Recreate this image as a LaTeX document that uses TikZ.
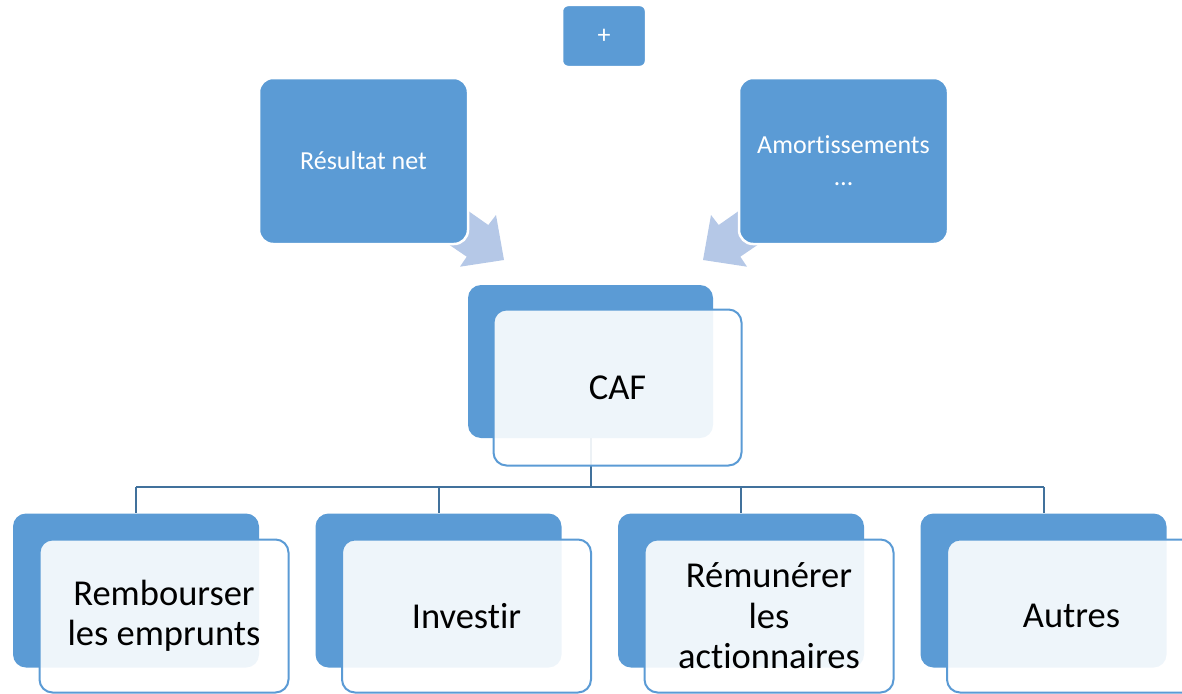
\documentclass[tikz,border=0pt]{standalone}
\usepackage{fontspec}
\setmainfont[Ligatures=NoCommon]{Carlito}
\definecolor{accentblue}{RGB}{91,155,213}
\definecolor{arrowblue}{RGB}{181,200,231}
\definecolor{linkblue}{RGB}{65,113,156}
\pgfdeclarelayer{background}
\pgfsetlayers{background,main}
\begin{document}
\begin{tikzpicture}[x=1pt,y=-1pt,
  topbox/.style={fill=accentblue, draw=white, line width=2.5pt, rounded corners=14pt,
    inner sep=0pt, text=white, align=center, font=\fontsize{26}{32}\selectfont},
  backbox/.style={fill=accentblue, draw=none, rounded corners=13pt, inner sep=0pt,
    minimum width=246pt, minimum height=154pt},
  frontbox/.style={fill=white, fill opacity=0.9, text opacity=1, draw=accentblue,
    line width=2pt, rounded corners=13pt, inner sep=0pt, align=center,
    minimum width=249pt, minimum height=153pt,
    font=\fontsize{36.5}{40.5}\selectfont},
  link/.style={draw=linkblue, line width=2pt},
  blockarrow/.style={fill=arrowblue, draw=none}]

\useasboundingbox (0,0) rectangle (1182,693);
\clip (0,0) rectangle (1182,693);

% converging block arrows (tails hidden under the upper boxes)
\fill[blockarrow] (463.5,207.6) -- (488.3,225) -- (496,215) -- (504,260)
  -- (460,266.7) -- (466.7,256.7) -- (445.1,242) -- cycle;
\fill[blockarrow] (743.5,207.6) -- (718.7,225) -- (711,215) -- (703,260)
  -- (747,266.7) -- (740.3,256.7) -- (761.9,242) -- cycle;

% upper row
\node[topbox, rounded corners=6pt, minimum width=84pt, minimum height=62pt]
  (plus) at (604,36) {+};
\node[topbox, minimum width=209pt, minimum height=166pt]
  (resultat) at (363.5,161) {Résultat net};
\node[topbox, minimum width=209pt, minimum height=166pt]
  (amort) at (843.5,161) {Amortissements\\…};

% back cards
\node[backbox, minimum width=245pt, minimum height=153pt] (cafback) at (590.5,361.5) {};
\node[backbox] (b1) at (136,590.5) {};
\node[backbox] (b2) at (438.5,590.5) {};
\node[backbox] (b3) at (741,590.5) {};
\node[backbox] (b4) at (1043.5,590.5) {};

% tree connectors, kept behind the cards
\coordinate (bar) at (590.5,487);
\begin{pgfonlayer}{background}
  \draw[link] (cafback.south) -- (bar);
  \draw[link] (b1.north |- bar) -- (b4.north |- bar);
  \foreach \b in {b1,b2,b3,b4}
    \draw[link] (\b.north |- bar) -- (\b.north);
\end{pgfonlayer}

% front cards
\node[frontbox, minimum width=248pt, minimum height=156pt] (caf) at (617.5,387.5) {CAF};
\node[frontbox] (f1) at (164,616) {Rembourser\\les emprunts};
\node[frontbox] (f2) at (466.5,616) {Investir};
\node[frontbox] (f3) at (769,616) {Rémunérer\\les\\actionnaires};
\node[frontbox] (f4) at (1071.5,616) {Autres};
\end{tikzpicture}
\end{document}
